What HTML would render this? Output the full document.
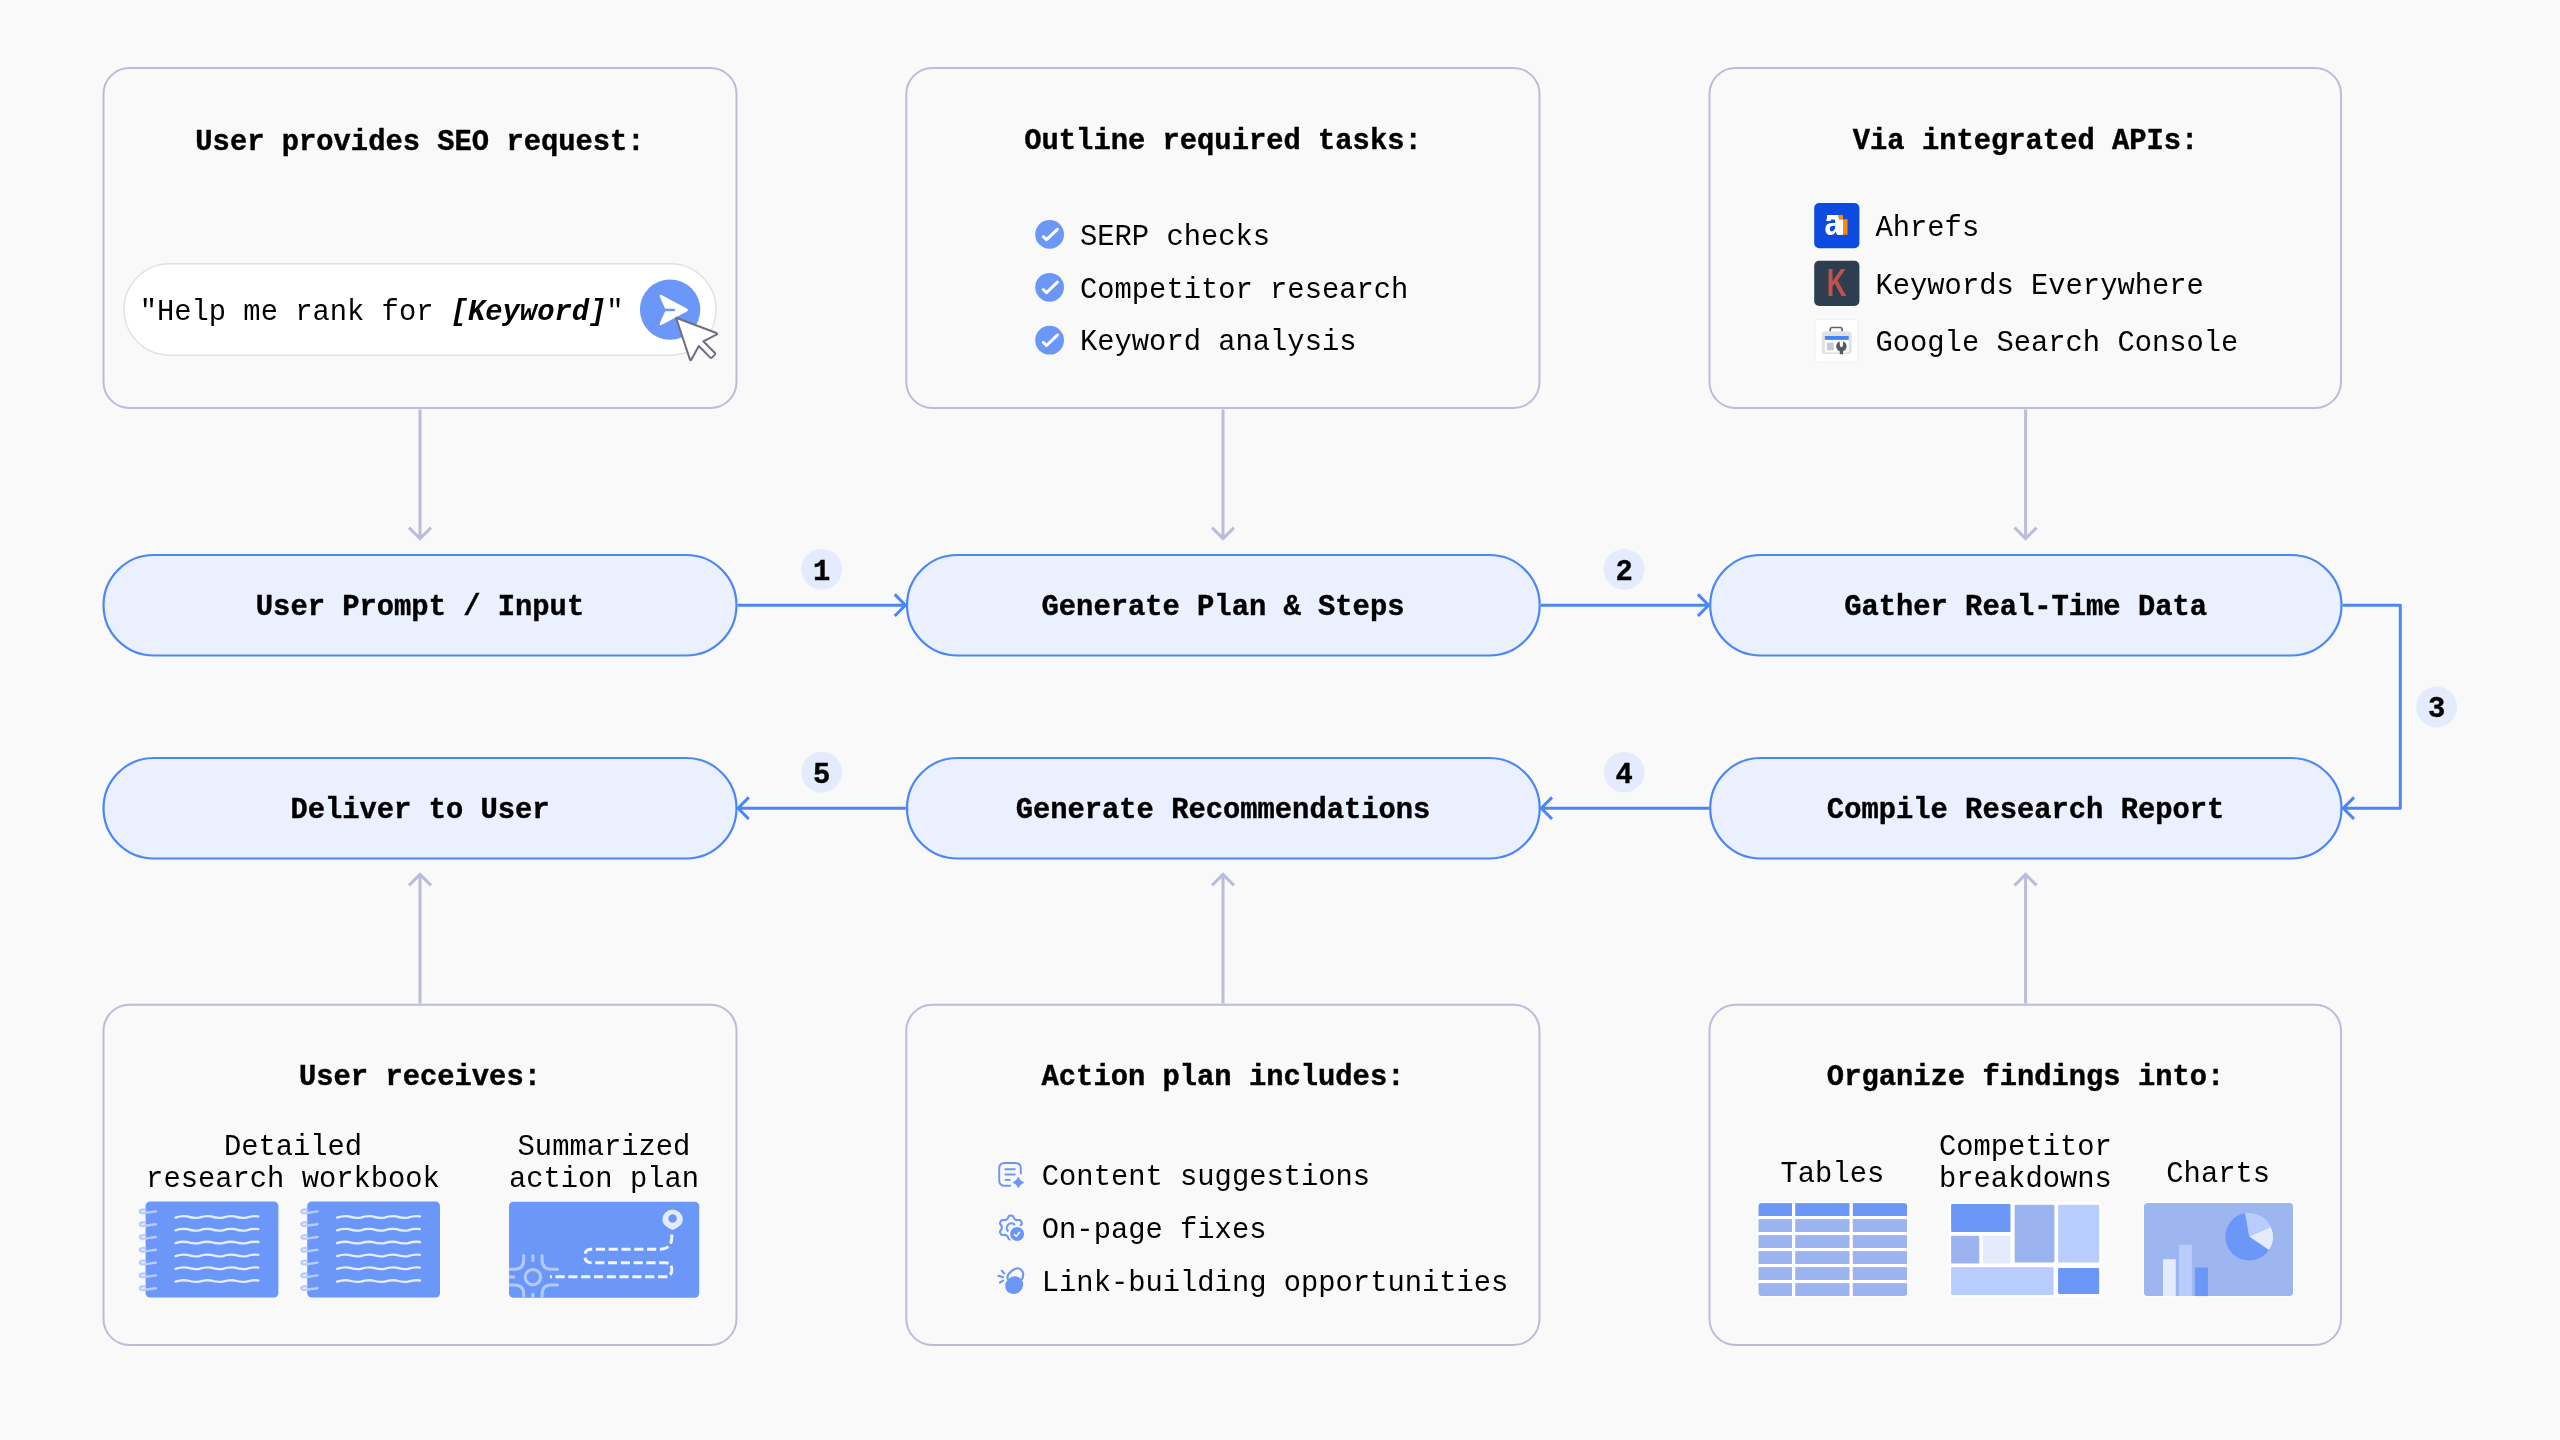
<!DOCTYPE html>
<html lang="en">
<head>
<meta charset="utf-8">
<title>SEO agent workflow</title>
<style>
html,body{margin:0;padding:0;background:#f9f9f9;}
body{width:2560px;height:1440px;overflow:hidden;}
svg{display:block;will-change:transform;}
text{font-family:"Liberation Mono", "DejaVu Sans Mono", monospace;font-size:28.8px;fill:#000;white-space:pre;}
.b{font-weight:700;stroke:#000;stroke-width:0.4px;}
.c{text-anchor:middle;}
.box{fill:none;stroke:#b9bdd9;stroke-width:2;}
.pill{fill:#eaf0fe;stroke:#4a86f6;stroke-width:2.2;}
.ga{fill:none;stroke:#b9bdd9;stroke-width:3;stroke-linecap:butt;stroke-linejoin:miter;}
.ba{fill:none;stroke:#4a86f6;stroke-width:3;stroke-linecap:butt;stroke-linejoin:round;}
.badge{fill:#e3ebfd;}
</style>
</head>
<body>
<svg width="2560" height="1440" viewBox="0 0 2560 1440">
<rect width="2560" height="1440" fill="#f9f9f9"/>

<rect class="box" x="103.5" y="68" width="633.0" height="340" rx="26"/>
<rect class="box" x="103.5" y="1004.8" width="633.0" height="340.2" rx="26"/>
<rect class="box" x="906.3" y="68" width="633.2" height="340" rx="26"/>
<rect class="box" x="906.3" y="1004.8" width="633.2" height="340.2" rx="26"/>
<rect class="box" x="1709.5" y="68" width="631.5" height="340" rx="26"/>
<rect class="box" x="1709.5" y="1004.8" width="631.5" height="340.2" rx="26"/>
<path class="ga" d="M420 409.5V537.5M409 527.6L420 538.6L431 527.6"/>
<path class="ga" d="M420 1003.5V875.5M409 885.4L420 874.4L431 885.4"/>
<path class="ga" d="M1223 409.5V537.5M1212 527.6L1223 538.6L1234 527.6"/>
<path class="ga" d="M1223 1003.5V875.5M1212 885.4L1223 874.4L1234 885.4"/>
<path class="ga" d="M2025.6 409.5V537.5M2014.6 527.6L2025.6 538.6L2036.6 527.6"/>
<path class="ga" d="M2025.6 1003.5V875.5M2014.6 885.4L2025.6 874.4L2036.6 885.4"/>
<rect class="pill" x="103.5" y="555" width="633.0" height="100.5" rx="50.25"/>
<rect class="pill" x="103.5" y="758" width="633.0" height="100.5" rx="50.25"/>
<rect class="pill" x="907" y="555" width="632.7" height="100.5" rx="50.25"/>
<rect class="pill" x="907" y="758" width="632.7" height="100.5" rx="50.25"/>
<rect class="pill" x="1710.2" y="555" width="631.3" height="100.5" rx="50.25"/>
<rect class="pill" x="1710.2" y="758" width="631.3" height="100.5" rx="50.25"/>
<path class="ba" d="M737.8 605.2H905.5M894.7 594.4000000000001L905.5 605.2L894.7 616.0"/>
<path class="ba" d="M1541 605.2H1708.7M1697.9 594.4000000000001L1708.7 605.2L1697.9 616.0"/>
<path class="ba" d="M1709 808.2H1541.2M1552.0 797.4000000000001L1541.2 808.2L1552.0 819.0"/>
<path class="ba" d="M905.8 808.2H738.0M748.8 797.4000000000001L738.0 808.2L748.8 819.0"/>
<path class="ba" d="M2342.8 605.2H2400.3V808.2H2343.2M2354 797.4000000000001L2343.2 808.2L2354 819.0"/>
<circle class="badge" cx="821.7" cy="569.3" r="20.4"/>
<text class="b c" x="821.7" y="579.8">1</text>
<circle class="badge" cx="1624.1" cy="569.3" r="20.4"/>
<text class="b c" x="1624.1" y="579.8">2</text>
<circle class="badge" cx="2436.6" cy="706.9" r="20.4"/>
<text class="b c" x="2436.6" y="717.4">3</text>
<circle class="badge" cx="1624.1" cy="772.2" r="20.4"/>
<text class="b c" x="1624.1" y="782.7">4</text>
<circle class="badge" cx="821.7" cy="772.2" r="20.4"/>
<text class="b c" x="821.7" y="782.7">5</text>
<text class="b c" x="420" y="614.7">User Prompt / Input</text>
<text class="b c" x="1223" y="614.7">Generate Plan &amp; Steps</text>
<text class="b c" x="2025.6" y="614.7">Gather Real-Time Data</text>
<text class="b c" x="420" y="817.7">Deliver to User</text>
<text class="b c" x="1223" y="817.7">Generate Recommendations</text>
<text class="b c" x="2025.6" y="817.7">Compile Research Report</text>
<text class="b c" x="420" y="149.6">User provides SEO request:</text>
<text class="b c" x="1223" y="149">Outline required tasks:</text>
<text class="b c" x="2025.6" y="149">Via integrated APIs:</text>
<text class="b c" x="420" y="1084.6">User receives:</text>
<text class="b c" x="1223" y="1084.6">Action plan includes:</text>
<text class="b c" x="2025.6" y="1084.6">Organize findings into:</text>
<!-- 10_box1 -->
<g>
<rect x="124" y="263.8" width="592" height="91.4" rx="45.7" fill="#ffffff" stroke="#e1e2e7" stroke-width="1.5"/>
<text x="139.7" y="319.8">"Help me rank for <tspan style="font-weight:700;font-style:italic">[Keyword]</tspan>"</text>
<circle cx="670.1" cy="309.6" r="30.2" fill="#6b97f9"/>
<path d="M661.2 295.3L687 309.1Q688.4 310 687 310.9L661.2 324.7Q659.3 325.3 660.2 323.4L665.4 311.7H675.4V308.3H665.4L660.2 296.6Q659.3 294.7 661.2 295.3Z" fill="#ffffff" stroke="#ffffff" stroke-width="0.9" stroke-linejoin="round"/>
<path d="M676.1 317.7L716.4 333Q717.8 333.8 716.4 334.6L703.3 341.3L714.9 353Q715.6 353.8 714.9 354.6L711.9 357.6Q711.1 358.3 710.3 357.6L698.8 346L691.4 359.6Q690.5 360.9 689.9 359.4Z" fill="#ffffff" stroke="#6e6e82" stroke-width="2" stroke-linejoin="round"/>
</g>
<!-- 20_box2 -->
<g>
<g fill="#6b97f9"><circle cx="1049.6" cy="234.4" r="14.4"/><circle cx="1049.6" cy="287.3" r="14.4"/><circle cx="1049.6" cy="340.2" r="14.4"/></g>
<g fill="none" stroke="#ffffff" stroke-width="3" stroke-linecap="round" stroke-linejoin="round">
<path d="M1043.3 236.6L1046.5 239.7L1057.4 229.3"/>
<path d="M1043.3 289.5L1046.5 292.6L1057.4 282.2"/>
<path d="M1043.3 342.4L1046.5 345.5L1057.4 335.1"/>
</g>
<text x="1080" y="244.6">SERP checks</text>
<text x="1080" y="297.5">Competitor research</text>
<text x="1080" y="350.4">Keyword analysis</text>
</g>
<!-- 30_box3 -->
<g>
<rect x="1814.2" y="203" width="45.2" height="45.2" rx="5" fill="#0d4be0"/>
<text x="1824.6" y="235.1" style="font-family:'Liberation Sans','DejaVu Sans',sans-serif;font-weight:700;font-size:36.6px;fill:#ffffff" transform="translate(1824.6 0) scale(0.84 1) translate(-1824.6 0)">a</text>
<path d="M1827 214.9H1838.7V219.3H1843V234.7H1837.6V219.6H1827Z" fill="#ffffff"/>
<path d="M1838.7 214.9H1843V219.3H1847.5V234.7H1843V219.3H1838.7Z" fill="#ff8a00"/>
<rect x="1814.2" y="260.8" width="45.2" height="45.2" rx="5" fill="#2c3e50"/>
<text x="1836.6" y="296.4" style="font-family:'Liberation Sans','DejaVu Sans',sans-serif;font-weight:700;font-size:39px;fill:#c4504d;text-anchor:middle" transform="translate(1836.6 0) scale(0.7 1) translate(-1836.6 0)">K</text>
<rect x="1814.9" y="319.2" width="43" height="43.4" rx="4" fill="#ffffff" stroke="#eeeef1" stroke-width="1"/>
<path d="M1830.2 331.5V329.6Q1830.2 327.5 1832.3 327.5H1840.1Q1842.2 327.5 1842.2 329.6V331.5" fill="none" stroke="#5f6368" stroke-width="1.7"/>
<rect x="1821.7" y="331.4" width="30" height="22.5" rx="3" fill="#dfe1e4"/>
<rect x="1824.9" y="339.6" width="23.8" height="12.7" fill="#ffffff"/>
<rect x="1824.9" y="336" width="23.8" height="3.9" fill="#4285f4"/>
<rect x="1826.9" y="342.6" width="6.9" height="7.7" fill="#c9cbcf"/>
<circle cx="1841.4" cy="346.2" r="5.2" fill="#55585c"/>
<path d="M1839.5 340.4H1843.3L1842.9 345.6Q1842.9 347.1 1841.4 347.1Q1839.9 347.1 1839.9 345.6Z" fill="#ffffff"/>
<rect x="1839.8" y="349" width="3.2" height="5.2" fill="#55585c"/>
<text x="1875.5" y="235.5">Ahrefs</text>
<text x="1875.5" y="293.8">Keywords Everywhere</text>
<text x="1875.5" y="351">Google Search Console</text>
</g>
<!-- 40_box4 -->
<g>
<text class="c" x="293" y="1154.9">Detailed</text>
<text class="c" x="293" y="1187.3">research workbook</text>
<text class="c" x="604" y="1154.9">Summarized</text>
<text class="c" x="604" y="1187.3">action plan</text>
<rect x="145.6" y="1201.5" width="132.8" height="96" rx="4.5" fill="#6b97f9"/>
<path d="M155.9 1211.4L144.6 1213.0Q139.4 1213.7 139.8 1211.2Q140.4 1209.1 145.2 1209.6" fill="none" stroke="#b7cbfc" stroke-width="2.4" stroke-linecap="round"/>
<path d="M155.9 1224.2L144.6 1225.8Q139.4 1226.5 139.8 1224.0Q140.4 1221.9 145.2 1222.4" fill="none" stroke="#b7cbfc" stroke-width="2.4" stroke-linecap="round"/>
<path d="M155.9 1237.0L144.6 1238.6Q139.4 1239.3 139.8 1236.8Q140.4 1234.7 145.2 1235.2" fill="none" stroke="#b7cbfc" stroke-width="2.4" stroke-linecap="round"/>
<path d="M155.9 1249.8L144.6 1251.4Q139.4 1252.1 139.8 1249.6Q140.4 1247.5 145.2 1248.0" fill="none" stroke="#b7cbfc" stroke-width="2.4" stroke-linecap="round"/>
<path d="M155.9 1262.6L144.6 1264.2Q139.4 1264.9 139.8 1262.4Q140.4 1260.3 145.2 1260.8" fill="none" stroke="#b7cbfc" stroke-width="2.4" stroke-linecap="round"/>
<path d="M155.9 1275.4L144.6 1277.0Q139.4 1277.7 139.8 1275.2Q140.4 1273.1 145.2 1273.6" fill="none" stroke="#b7cbfc" stroke-width="2.4" stroke-linecap="round"/>
<path d="M155.9 1288.2L144.6 1289.8Q139.4 1290.5 139.8 1288.0Q140.4 1285.9 145.2 1286.4" fill="none" stroke="#b7cbfc" stroke-width="2.4" stroke-linecap="round"/>
<path d="M175.5 1217.6Q181.4 1215.5 187.3 1216.4Q193.3 1218.5 199.2 1217.6Q205.1 1215.5 211.0 1216.4Q216.9 1218.5 222.9 1217.6Q228.8 1215.5 234.7 1216.4Q240.6 1218.5 246.6 1217.6Q252.5 1215.5 258.4 1216.4" fill="none" stroke="#e6edfe" stroke-width="2.3" stroke-linecap="round"/>
<path d="M175.5 1230.4Q181.4 1228.4 187.3 1229.2Q193.3 1231.3 199.2 1230.4Q205.1 1228.4 211.0 1229.2Q216.9 1231.3 222.9 1230.4Q228.8 1228.4 234.7 1229.2Q240.6 1231.3 246.6 1230.4Q252.5 1228.4 258.4 1229.2" fill="none" stroke="#e6edfe" stroke-width="2.3" stroke-linecap="round"/>
<path d="M175.5 1243.2Q181.4 1241.2 187.3 1242.0Q193.3 1244.1 199.2 1243.2Q205.1 1241.2 211.0 1242.0Q216.9 1244.1 222.9 1243.2Q228.8 1241.2 234.7 1242.0Q240.6 1244.1 246.6 1243.2Q252.5 1241.2 258.4 1242.0" fill="none" stroke="#e6edfe" stroke-width="2.3" stroke-linecap="round"/>
<path d="M175.5 1256.1Q181.4 1254.0 187.3 1254.9Q193.3 1256.9 199.2 1256.1Q205.1 1254.0 211.0 1254.9Q216.9 1256.9 222.9 1256.1Q228.8 1254.0 234.7 1254.9Q240.6 1256.9 246.6 1256.1Q252.5 1254.0 258.4 1254.9" fill="none" stroke="#e6edfe" stroke-width="2.3" stroke-linecap="round"/>
<path d="M175.5 1268.9Q181.4 1266.8 187.3 1267.7Q193.3 1269.7 199.2 1268.9Q205.1 1266.8 211.0 1267.7Q216.9 1269.7 222.9 1268.9Q228.8 1266.8 234.7 1267.7Q240.6 1269.7 246.6 1268.9Q252.5 1266.8 258.4 1267.7" fill="none" stroke="#e6edfe" stroke-width="2.3" stroke-linecap="round"/>
<path d="M175.5 1281.7Q181.4 1279.6 187.3 1280.5Q193.3 1282.5 199.2 1281.7Q205.1 1279.6 211.0 1280.5Q216.9 1282.5 222.9 1281.7Q228.8 1279.6 234.7 1280.5Q240.6 1282.5 246.6 1281.7Q252.5 1279.6 258.4 1280.5" fill="none" stroke="#e6edfe" stroke-width="2.3" stroke-linecap="round"/>
<rect x="307.2" y="1201.5" width="132.8" height="96" rx="4.5" fill="#6b97f9"/>
<path d="M317.5 1211.4L306.2 1213.0Q301.0 1213.7 301.4 1211.2Q302.0 1209.1 306.8 1209.6" fill="none" stroke="#b7cbfc" stroke-width="2.4" stroke-linecap="round"/>
<path d="M317.5 1224.2L306.2 1225.8Q301.0 1226.5 301.4 1224.0Q302.0 1221.9 306.8 1222.4" fill="none" stroke="#b7cbfc" stroke-width="2.4" stroke-linecap="round"/>
<path d="M317.5 1237.0L306.2 1238.6Q301.0 1239.3 301.4 1236.8Q302.0 1234.7 306.8 1235.2" fill="none" stroke="#b7cbfc" stroke-width="2.4" stroke-linecap="round"/>
<path d="M317.5 1249.8L306.2 1251.4Q301.0 1252.1 301.4 1249.6Q302.0 1247.5 306.8 1248.0" fill="none" stroke="#b7cbfc" stroke-width="2.4" stroke-linecap="round"/>
<path d="M317.5 1262.6L306.2 1264.2Q301.0 1264.9 301.4 1262.4Q302.0 1260.3 306.8 1260.8" fill="none" stroke="#b7cbfc" stroke-width="2.4" stroke-linecap="round"/>
<path d="M317.5 1275.4L306.2 1277.0Q301.0 1277.7 301.4 1275.2Q302.0 1273.1 306.8 1273.6" fill="none" stroke="#b7cbfc" stroke-width="2.4" stroke-linecap="round"/>
<path d="M317.5 1288.2L306.2 1289.8Q301.0 1290.5 301.4 1288.0Q302.0 1285.9 306.8 1286.4" fill="none" stroke="#b7cbfc" stroke-width="2.4" stroke-linecap="round"/>
<path d="M337.1 1217.6Q343.0 1215.5 348.9 1216.4Q354.9 1218.5 360.8 1217.6Q366.7 1215.5 372.6 1216.4Q378.5 1218.5 384.5 1217.6Q390.4 1215.5 396.3 1216.4Q402.2 1218.5 408.2 1217.6Q414.1 1215.5 420.0 1216.4" fill="none" stroke="#e6edfe" stroke-width="2.3" stroke-linecap="round"/>
<path d="M337.1 1230.4Q343.0 1228.4 348.9 1229.2Q354.9 1231.3 360.8 1230.4Q366.7 1228.4 372.6 1229.2Q378.5 1231.3 384.5 1230.4Q390.4 1228.4 396.3 1229.2Q402.2 1231.3 408.2 1230.4Q414.1 1228.4 420.0 1229.2" fill="none" stroke="#e6edfe" stroke-width="2.3" stroke-linecap="round"/>
<path d="M337.1 1243.2Q343.0 1241.2 348.9 1242.0Q354.9 1244.1 360.8 1243.2Q366.7 1241.2 372.6 1242.0Q378.5 1244.1 384.5 1243.2Q390.4 1241.2 396.3 1242.0Q402.2 1244.1 408.2 1243.2Q414.1 1241.2 420.0 1242.0" fill="none" stroke="#e6edfe" stroke-width="2.3" stroke-linecap="round"/>
<path d="M337.1 1256.1Q343.0 1254.0 348.9 1254.9Q354.9 1256.9 360.8 1256.1Q366.7 1254.0 372.6 1254.9Q378.5 1256.9 384.5 1256.1Q390.4 1254.0 396.3 1254.9Q402.2 1256.9 408.2 1256.1Q414.1 1254.0 420.0 1254.9" fill="none" stroke="#e6edfe" stroke-width="2.3" stroke-linecap="round"/>
<path d="M337.1 1268.9Q343.0 1266.8 348.9 1267.7Q354.9 1269.7 360.8 1268.9Q366.7 1266.8 372.6 1267.7Q378.5 1269.7 384.5 1268.9Q390.4 1266.8 396.3 1267.7Q402.2 1269.7 408.2 1268.9Q414.1 1266.8 420.0 1267.7" fill="none" stroke="#e6edfe" stroke-width="2.3" stroke-linecap="round"/>
<path d="M337.1 1281.7Q343.0 1279.6 348.9 1280.5Q354.9 1282.5 360.8 1281.7Q366.7 1279.6 372.6 1280.5Q378.5 1282.5 384.5 1281.7Q390.4 1279.6 396.3 1280.5Q402.2 1282.5 408.2 1281.7Q414.1 1279.6 420.0 1280.5" fill="none" stroke="#e6edfe" stroke-width="2.3" stroke-linecap="round"/>
<rect x="509" y="1201.7" width="190.2" height="96" rx="4.5" fill="#6b97f9"/>
<clipPath id="mapclip"><rect x="509" y="1201.7" width="190.2" height="96" rx="4.5"/></clipPath>
<g clip-path="url(#mapclip)" fill="none" stroke="#b4c9fc" stroke-width="3" stroke-linecap="round">
<circle cx="532.9" cy="1277.1" r="7.7"/>
<path d="M523.7 1255.5V1260Q523.7 1269.2 514.5 1269.2H505"/>
<path d="M542.1 1255.5V1260Q542.1 1269.2 551.3 1269.2H557.5"/>
<path d="M505 1285H514.5Q523.7 1285 523.7 1294.2V1300"/>
<path d="M557.5 1285H551.3Q542.1 1285 542.1 1294.2V1300"/>
<path d="M532.9 1255.8V1260.6M532.9 1294.2V1300M505 1277.1H514"/>
</g>
<path d="M671.8 1234.5V1237Q671.8 1249.3 659.5 1249.3H591.5Q584.8 1249.3 584.8 1256T591.5 1262.7H665Q671.8 1262.7 671.8 1269.7T665 1276.8H550" fill="none" stroke="#f1f5ff" stroke-width="3" stroke-dasharray="9.2 3.6" stroke-linecap="butt"/>
<path fill-rule="evenodd" fill="#e3ebfd" d="M672.6 1209.6A10.2 10.2 0 0 1 682.8 1219.8C682.8 1225 677 1228 672.6 1230C668.2 1228 662.4 1225 662.4 1219.8A10.2 10.2 0 0 1 672.6 1209.6ZM672.6 1214.2A4.3 4.3 0 1 0 672.6 1222.8A4.3 4.3 0 1 0 672.6 1214.2Z"/>
</g>
<!-- 50_box5 -->
<g>
<text x="1041.8" y="1185.3">Content suggestions</text>
<text x="1041.8" y="1238.1">On-page fixes</text>
<text x="1041.8" y="1290.8">Link-building opportunities</text>
<g fill="none" stroke="#6b97f9" stroke-width="1.9" stroke-linecap="round" stroke-linejoin="round">
<path d="M1020.8 1173.6V1168.6Q1020.8 1163 1015.2 1163H1004.8Q999.2 1163 999.2 1168.6V1180.2Q999.2 1185.8 1004.8 1185.8H1010.2"/>
<path d="M1005.3 1169.2H1014.8M1005.3 1174.5H1014.8M1005.3 1179.9H1009.8"/>
</g>
<path d="M1018.4 1176.9Q1019.9 1180.9 1023.9 1182.4Q1019.9 1183.9 1018.4 1187.9Q1016.9 1183.9 1012.9 1182.4Q1016.9 1180.9 1018.4 1176.9Z" fill="#6b97f9" stroke="#6b97f9" stroke-width="0.6" stroke-linejoin="round"/>
<mask id="gm" maskUnits="userSpaceOnUse" x="990" y="1205" width="50" height="50"><rect x="990" y="1205" width="50" height="50" fill="#fff"/><circle cx="1017.1" cy="1234" r="8.7" fill="#000"/></mask>
<g mask="url(#gm)" fill="none" stroke="#6b97f9" stroke-width="2.1" stroke-linejoin="round" stroke-linecap="round"><path d="M1020.15 1227.50L1020.13 1227.82L1020.09 1228.14L1020.07 1228.46L1020.12 1228.80L1020.28 1229.15L1020.55 1229.55L1020.90 1229.99L1021.27 1230.47L1021.58 1230.97L1021.78 1231.46L1021.83 1231.92L1021.75 1232.33L1021.59 1232.71L1021.38 1233.07L1021.16 1233.42L1020.96 1233.79L1020.76 1234.15L1020.51 1234.48L1020.19 1234.76L1019.77 1234.94L1019.25 1235.02L1018.66 1234.99L1018.06 1234.92L1017.50 1234.83L1017.02 1234.80L1016.63 1234.84L1016.32 1234.96L1016.05 1235.14L1015.79 1235.33L1015.52 1235.51L1015.24 1235.66L1014.94 1235.78L1014.65 1235.92L1014.39 1236.13L1014.16 1236.45L1013.95 1236.89L1013.74 1237.41L1013.51 1237.97L1013.24 1238.49L1012.91 1238.90L1012.54 1239.17L1012.14 1239.32L1011.73 1239.36L1011.31 1239.36L1010.90 1239.35L1010.49 1239.36L1010.07 1239.36L1009.66 1239.32L1009.26 1239.17L1008.89 1238.90L1008.56 1238.49L1008.29 1237.97L1008.06 1237.41L1007.85 1236.89L1007.64 1236.45L1007.41 1236.13L1007.15 1235.92L1006.86 1235.78L1006.56 1235.66L1006.27 1235.51L1006.01 1235.33L1005.75 1235.14L1005.48 1234.96L1005.17 1234.84L1004.78 1234.80L1004.30 1234.83L1003.74 1234.92L1003.14 1234.99L1002.55 1235.02L1002.03 1234.94L1001.61 1234.76L1001.29 1234.48L1001.04 1234.15L1000.84 1233.79L1000.64 1233.42L1000.42 1233.07L1000.21 1232.71L1000.05 1232.33L999.97 1231.92L1000.02 1231.46L1000.22 1230.97L1000.53 1230.47L1000.90 1229.99L1001.25 1229.55L1001.52 1229.15L1001.68 1228.80L1001.73 1228.46L1001.71 1228.14L1001.67 1227.82L1001.65 1227.50L1001.67 1227.18L1001.71 1226.86L1001.73 1226.54L1001.68 1226.20L1001.52 1225.85L1001.25 1225.45L1000.90 1225.01L1000.53 1224.53L1000.22 1224.03L1000.02 1223.54L999.97 1223.08L1000.05 1222.67L1000.21 1222.29L1000.42 1221.93L1000.64 1221.58L1000.84 1221.21L1001.04 1220.85L1001.29 1220.52L1001.61 1220.24L1002.03 1220.06L1002.55 1219.98L1003.14 1220.01L1003.74 1220.08L1004.30 1220.17L1004.78 1220.20L1005.17 1220.16L1005.48 1220.04L1005.75 1219.86L1006.01 1219.67L1006.27 1219.49L1006.56 1219.34L1006.86 1219.22L1007.15 1219.08L1007.41 1218.87L1007.64 1218.55L1007.85 1218.11L1008.06 1217.59L1008.29 1217.03L1008.56 1216.51L1008.89 1216.10L1009.26 1215.83L1009.66 1215.68L1010.07 1215.64L1010.49 1215.64L1010.90 1215.65L1011.31 1215.64L1011.73 1215.64L1012.14 1215.68L1012.54 1215.83L1012.91 1216.10L1013.24 1216.51L1013.51 1217.03L1013.74 1217.59L1013.95 1218.11L1014.16 1218.55L1014.39 1218.87L1014.65 1219.08L1014.94 1219.22L1015.24 1219.34L1015.52 1219.49L1015.79 1219.67L1016.05 1219.86L1016.32 1220.04L1016.63 1220.16L1017.02 1220.20L1017.50 1220.17L1018.06 1220.08L1018.66 1220.01L1019.25 1219.98L1019.77 1220.06L1020.19 1220.24L1020.51 1220.52L1020.76 1220.85L1020.96 1221.21L1021.16 1221.58L1021.38 1221.93L1021.59 1222.29L1021.75 1222.67L1021.83 1223.08L1021.78 1223.54L1021.58 1224.03L1021.27 1224.53L1020.90 1225.01L1020.55 1225.45L1020.28 1225.85L1020.12 1226.20L1020.07 1226.54L1020.09 1226.86L1020.13 1227.18Z"/><path d="M1014.37 1224.48A4.6 4.6 0 0 0 1007.88 1230.97"/></g>
<circle cx="1017.1" cy="1234" r="7" fill="#6b97f9"/>
<path d="M1014.3 1234.5L1016.4 1236.4L1019.5 1232.3" fill="none" stroke="#f9f9f9" stroke-width="1.5" stroke-linecap="round" stroke-linejoin="round"/>
<ellipse cx="1014.2" cy="1285.2" rx="9.3" ry="8.5" transform="rotate(-40 1014.2 1285.2)" fill="#6b97f9"/>
<path d="M1007.9 1279.4C1006.5 1276.2 1008.4 1273.6 1011.5 1271.2C1014 1269.2 1015.8 1268.1 1017.6 1268.2C1021 1268.5 1023.4 1271.4 1023.2 1274.6C1023.1 1276.5 1022.7 1278 1022 1279.2" fill="none" stroke="#6b97f9" stroke-width="2.1" stroke-linecap="round"/>
<path d="M1001.8 1270.8L1004.4 1273.6M998.4 1275.8L1003.1 1277.3M1000 1282.6L1003.1 1280.5" fill="none" stroke="#6b97f9" stroke-width="2.1" stroke-linecap="round"/>
</g>
<!-- 60_box6 -->
<g>
<text class="c" x="1832.4" y="1181.9">Tables</text>
<text class="c" x="2025.4" y="1154.9">Competitor</text>
<text class="c" x="2025.4" y="1187.3">breakdowns</text>
<text class="c" x="2218.2" y="1181.9">Charts</text>
<rect x="1757.3" y="1202.2" width="151" height="95" rx="4.5" fill="#ffffff"/>
<clipPath id="tclip"><rect x="1758.3" y="1203.1" width="149" height="93" rx="3.5"/></clipPath>
<g clip-path="url(#tclip)">
<rect x="1758.3" y="1203.1" width="33.7" height="12.9" fill="#6b97f9"/>
<rect x="1795.2" y="1203.1" width="54.3" height="12.9" fill="#6b97f9"/>
<rect x="1852.8" y="1203.1" width="54.5" height="12.9" fill="#6b97f9"/>
<rect x="1758.3" y="1219.1" width="33.7" height="12.9" fill="#9bb4ef"/>
<rect x="1795.2" y="1219.1" width="54.3" height="12.9" fill="#9bb4ef"/>
<rect x="1852.8" y="1219.1" width="54.5" height="12.9" fill="#9bb4ef"/>
<rect x="1758.3" y="1235.1" width="33.7" height="12.9" fill="#9bb4ef"/>
<rect x="1795.2" y="1235.1" width="54.3" height="12.9" fill="#9bb4ef"/>
<rect x="1852.8" y="1235.1" width="54.5" height="12.9" fill="#9bb4ef"/>
<rect x="1758.3" y="1251.1" width="33.7" height="12.9" fill="#9bb4ef"/>
<rect x="1795.2" y="1251.1" width="54.3" height="12.9" fill="#9bb4ef"/>
<rect x="1852.8" y="1251.1" width="54.5" height="12.9" fill="#9bb4ef"/>
<rect x="1758.3" y="1267.1" width="33.7" height="12.9" fill="#9bb4ef"/>
<rect x="1795.2" y="1267.1" width="54.3" height="12.9" fill="#9bb4ef"/>
<rect x="1852.8" y="1267.1" width="54.5" height="12.9" fill="#9bb4ef"/>
<rect x="1758.3" y="1283.1" width="33.7" height="13.0" fill="#9bb4ef"/>
<rect x="1795.2" y="1283.1" width="54.3" height="13.0" fill="#9bb4ef"/>
<rect x="1852.8" y="1283.1" width="54.5" height="13.0" fill="#9bb4ef"/>
</g>
<rect x="1948.6" y="1201.9" width="153.4" height="95.4" rx="4.5" fill="#ffffff"/>
<rect x="1951.1" y="1204.1" width="59.4" height="27.9" rx="1" fill="#6b97f9"/>
<rect x="1951.1" y="1235.7" width="28.2" height="27.8" rx="1" fill="#9bb4ef"/>
<rect x="1982.7" y="1235.7" width="27.8" height="27.8" rx="1" fill="#e3ebfd"/>
<rect x="2014.6" y="1204.8" width="39.8" height="57.6" rx="1" fill="#9bb4ef"/>
<rect x="2058.1" y="1204.8" width="41.1" height="57.6" rx="1" fill="#b9cdfd"/>
<rect x="1951.1" y="1267.2" width="102.5" height="27.7" rx="1" fill="#b9cdfd"/>
<rect x="2058.1" y="1267.9" width="41.1" height="26.0" rx="1" fill="#6b97f9"/>
<rect x="2143.2" y="1202" width="150.6" height="95" rx="4.5" fill="#ffffff"/>
<rect x="2144" y="1202.9" width="149" height="93.2" rx="3.5" fill="#9db6ef"/>
<rect x="2162.9" y="1259.2" width="12.9" height="36.9" fill="#e3ebfd"/>
<rect x="2179" y="1244.8" width="12.9" height="51.3" fill="#b9cdfd"/>
<rect x="2194.9" y="1267.5" width="13" height="28.6" fill="#6b97f9"/>
<circle cx="2249.2" cy="1236.6" r="23.9" fill="#6b97f9"/>
<path d="M2249.2 1236.6L2245.0 1213.1A23.9 23.9 0 0 1 2271.0 1226.9Z" fill="#b9cdfd"/>
<path d="M2249.2 1236.6L2271.0 1226.9A23.9 23.9 0 0 1 2269.0 1250.0Z" fill="#e3ebfd"/>
</g>
</svg>
</body>
</html>
